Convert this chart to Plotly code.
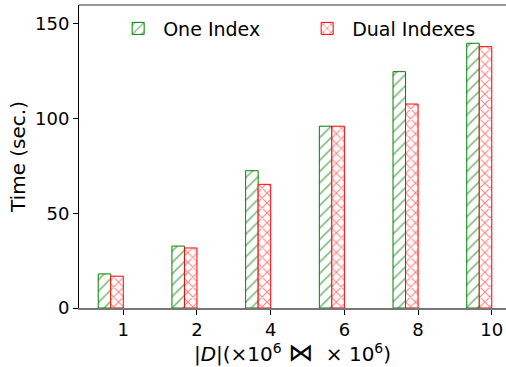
import plotly.graph_objects as go

categories = ["1", "2", "4", "6", "8", "10"]
one_index = [18, 32.7, 72.5, 96, 124.8, 139.8]
dual_indexes = [16.8, 31.7, 65.3, 96, 107.7, 138]

xpos = list(range(len(categories)))
w = 0.17

fig = go.Figure()
fig.add_trace(go.Bar(
    x=xpos, y=one_index, name="One Index", width=w, offset=-2 * w,
    marker=dict(color="rgba(255,255,255,0)", line=dict(color="green", width=1),
                pattern=dict(shape="/", fgcolor="green", bgcolor="white", size=8, solidity=0.22)),
))
fig.add_trace(go.Bar(
    x=xpos, y=dual_indexes, name="Dual Indexes", width=w, offset=-w,
    marker=dict(color="rgba(255,255,255,0)", line=dict(color="red", width=1),
                pattern=dict(shape="x", fgcolor="red", bgcolor="white", size=7, solidity=0.28)),
))

font = "DejaVu Sans"
fig.update_layout(
    width=506, height=367,
    margin=dict(l=79, r=0, t=5, b=59),
    paper_bgcolor="white", plot_bgcolor="white",
    barmode="overlay",
    font=dict(family=font, size=18, color="black"),
    legend=dict(orientation="h", x=0.08, y=0.985, xanchor="left", yanchor="top",
                font=dict(size=19), bgcolor="rgba(0,0,0,0)", itemwidth=40,
                entrywidth=134, entrywidthmode="pixels",
                traceorder="normal"),
    xaxis=dict(
        range=[-0.601, 5.193], tickvals=xpos, ticktext=categories,
        showgrid=False, zeroline=False, showline=True, linecolor="#777777", linewidth=1.5,
        mirror=False, ticks="outside", ticklen=5, tickcolor="black",
        tickfont=dict(size=18),
        title=dict(text="|<i>D</i>|(×10<sup>6</sup> <span style='font-size:25px'>⋈</span>  × 10<sup>6</sup>)",
                   font=dict(size=20), standoff=2),
    ),
    yaxis=dict(
        range=[0, 160], tickvals=[0, 50, 100, 150],
        showgrid=False, zeroline=False, showline=True, linecolor="black", linewidth=1,
        ticks="outside", ticklen=5, tickcolor="black",
        tickfont=dict(size=18),
        title=dict(text="Time (sec.)", font=dict(size=20), standoff=4),
    ),
)
fig.add_shape(type="line", xref="paper", yref="paper", x0=0, x1=1, y0=1, y1=1,
              line=dict(color="#777777", width=1.5))

fig.write_html("out.html", config={"displayModeBar": False},
               post_script="document.body.style.margin='0px';")
